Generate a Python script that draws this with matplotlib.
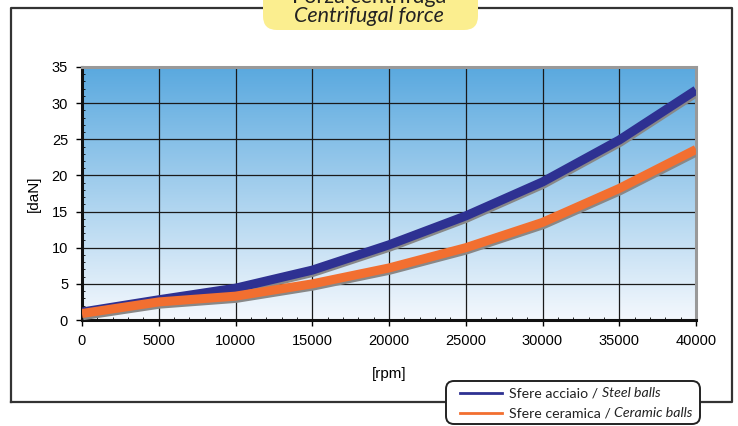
import numpy as np
import matplotlib.pyplot as plt
from matplotlib import patheffects as pe
from matplotlib.patches import FancyBboxPatch
from matplotlib.lines import Line2D
from matplotlib.colors import LinearSegmentedColormap

rpm = [0, 5000, 10000, 15000, 20000, 25000, 30000, 35000, 40000]
steel = [1.1, 2.8, 4.4, 6.9, 10.4, 14.4, 19.1, 24.9, 31.8]
ceramic = [0.9, 2.5, 3.3, 5.0, 7.2, 10.0, 13.5, 18.2, 23.6]

xticks = [0, 5000, 10000, 15000, 20000, 25000, 30000, 35000, 40000]
yticks = [0, 5, 10, 15, 20, 25, 30, 35]

W, H = 738, 426
fig = plt.figure(figsize=(W / 100, H / 100), dpi=100)

# outer frame
frame = fig.add_axes([0, 0, 1, 1], zorder=0)
frame.set_xlim(0, W)
frame.set_ylim(H, 0)
frame.axis('off')
frame.plot([11, 11, 732, 732, 11], [402, 8, 8, 402, 402], color='#333333', lw=1.6)

ax = fig.add_axes([82 / W, 1 - 320 / H, (696 - 82) / W, (320 - 67) / H], zorder=2)

# gradient background
grad = np.linspace(0, 1, 256).reshape(-1, 1)
cmap = LinearSegmentedColormap.from_list('bg', ['#f4f8fd', '#5aa9df'])
ax.imshow(grad, aspect='auto', cmap=cmap, origin='lower',
          extent=[0, 40000, 0, 35], zorder=0)

ax.set_xlim(0, 40000)
ax.set_ylim(0, 35)
ax.set_xticks(xticks)
ax.set_yticks(yticks)
ax.set_xticks(np.arange(0, 40001, 1000), minor=True)
ax.set_yticks(np.arange(0, 36, 1), minor=True)
ax.grid(True, which='major', color='#1a1a1a', lw=0.9, zorder=1)
ax.tick_params(which='major', length=4, width=1, labelsize=10.5, pad=6, direction='out')
ax.tick_params(which='minor', length=2.5, width=0.6, direction='in')
for lab in ax.get_xticklabels() + ax.get_yticklabels():
    lab.set_fontfamily('Liberation Sans')

for s in ['left', 'bottom']:
    ax.spines[s].set_linewidth(2.2)
    ax.spines[s].set_color('#111111')
for s in ['top', 'right']:
    ax.spines[s].set_linewidth(2.2)
    ax.spines[s].set_color('#999999')

shadow = [pe.SimpleLineShadow(offset=(0.6, -1.6), shadow_color='#888888', alpha=1), pe.Normal()]
ax.plot(rpm, steel, color='#2e3192', lw=6.5, solid_capstyle='butt', zorder=3, path_effects=shadow)
ax.plot(rpm, ceramic, color='#f26f30', lw=6.5, solid_capstyle='butt', zorder=3, path_effects=shadow)

ax.set_xlabel('[rpm]', fontsize=11, family='Liberation Sans', labelpad=14)
ax.set_ylabel('[daN]', fontsize=11, family='Liberation Sans', labelpad=8)

# title box
tb = FancyBboxPatch((263, -30), 215, 60, boxstyle='round,pad=0,rounding_size=14',
                    fc='#fbee8f', ec='none', transform=frame.transData, zorder=5)
frame.add_patch(tb)
frame.text(369, 16, 'Centrifugal force', ha='center', va='center', fontsize=15.5,
           style='italic', family='Lato', color='#222222', zorder=6)
frame.text(369, -3, 'Forza centrifuga', ha='center', va='center', fontsize=15.5,
           family='Lato', color='#222222', zorder=6)

# legend box
lb = FancyBboxPatch((446, 381), 254, 43, boxstyle='round,pad=0,rounding_size=8',
                    fc='white', ec='#222222', lw=1.4, transform=frame.transData, zorder=5)
frame.add_patch(lb)
frame.add_line(Line2D([460, 502], [393, 393], color='#2e3192', lw=2, zorder=6))
frame.add_line(Line2D([460, 502], [413, 413], color='#f26f30', lw=2, zorder=6))
t1 = frame.text(509, 393, 'Sfere acciaio / ', ha='left', va='center', fontsize=10.2,
                family='Lato', color='#222222', zorder=6)
frame.annotate('Steel balls', xycoords=t1, xy=(1, 0.5), va='center', ha='left',
               fontsize=10.2, family='Lato', style='italic', color='#222222', zorder=6)
t2 = frame.text(509, 413, 'Sfere ceramica / ', ha='left', va='center', fontsize=10.2,
                family='Lato', color='#222222', zorder=6)
frame.annotate('Ceramic balls', xycoords=t2, xy=(1, 0.5), va='center', ha='left',
               fontsize=10.2, family='Lato', style='italic', color='#222222', zorder=6)

fig.savefig('out.png', dpi=100)
